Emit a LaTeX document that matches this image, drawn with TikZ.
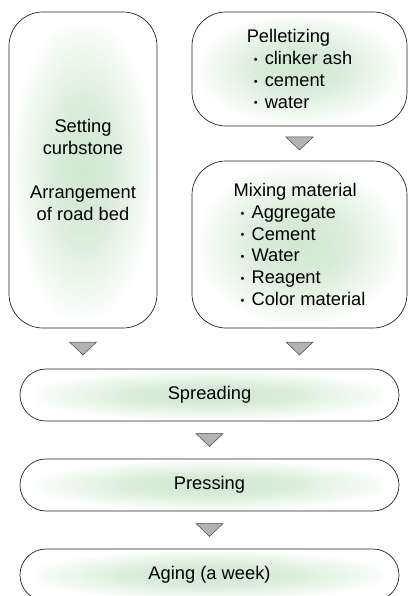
\documentclass[tikz,border=0pt]{standalone}
\usepackage{fontspec}
\setmainfont{Liberation Sans}
\usetikzlibrary{calc}

\definecolor{glow}{RGB}{208,232,208}
\definecolor{trigray}{RGB}{178,178,178}
\definecolor{trieedge}{RGB}{70,70,70}

\pgfdeclareradialshading{boxglow}{\pgfpoint{0bp}{0bp}}{%
  color(0bp)=(glow); color(10bp)=(glow!80!white);
  color(25bp)=(white); color(50bp)=(white)}

\newcommand{\pdot}{\hspace{7pt}\makebox[11pt][l]{\raisebox{1.2pt}{\fontsize{11}{11}\selectfont\textbullet}}}

\tikzset{
  stepnode/.style={draw=black!85, line width=0.7pt,
    font=\fontsize{18.3}{21.7}\selectfont, inner sep=0pt,
    path picture={\shade[shading=boxglow]
      ($(path picture bounding box.center)!0.92!(path picture bounding box.south west)$)
      rectangle
      ($(path picture bounding box.center)!0.92!(path picture bounding box.north east)$);}},
  tallbox/.style={stepnode, rounded corners=34pt},
  widebox/.style={stepnode, rounded corners=26pt,
    minimum width=379pt, minimum height=52pt},
  downtri/.pic={\draw[fill=trigray, draw=trieedge, line width=0.5pt]
    (-13.5,-6.5) -- (13.5,-6.5) -- (0,6.5) -- cycle;}
}

\begin{document}
\begin{tikzpicture}[x=1pt,y=-1pt]
\useasboundingbox (0,0) rectangle (408,596);

% Upper boxes
\node[tallbox, minimum width=148pt, minimum height=316pt, align=center]
  (curb) at (83,170) {Setting\\curbstone\\[22pt]Arrangement\\of road bed};
\node[tallbox, minimum width=215pt, minimum height=114pt, align=left]
  (pellet) at (299.5,69) {Pelletizing\\\pdot clinker ash\\\pdot cement\\\pdot water};
\node[tallbox, minimum width=215pt, minimum height=167pt, align=left]
  (mix) at (299.5,244.5) {Mixing material\\\pdot Aggregate\\\pdot Cement\\\pdot Water\\\pdot Reagent\\\pdot Color material};

% Lower boxes
\node[widebox] (spread) at (209.5,395) {Spreading};
\node[widebox] (press) at (209.5,485) {Pressing};
\node[widebox] (aging) at (209.5,575) {Aging (a week)};

% Triangles
\pic at ($(pellet.south)!0.5!(mix.north)$) {downtri};
\pic at ($(curb.south)!0.5!(curb.south |- spread.north)$) {downtri};
\pic at ($(mix.south)!0.5!(mix.south |- spread.north)$) {downtri};
\pic at ($(spread.south)!0.5!(press.north)$) {downtri};
\pic at ($(press.south)!0.5!(aging.north)$) {downtri};

\end{tikzpicture}
\end{document}
